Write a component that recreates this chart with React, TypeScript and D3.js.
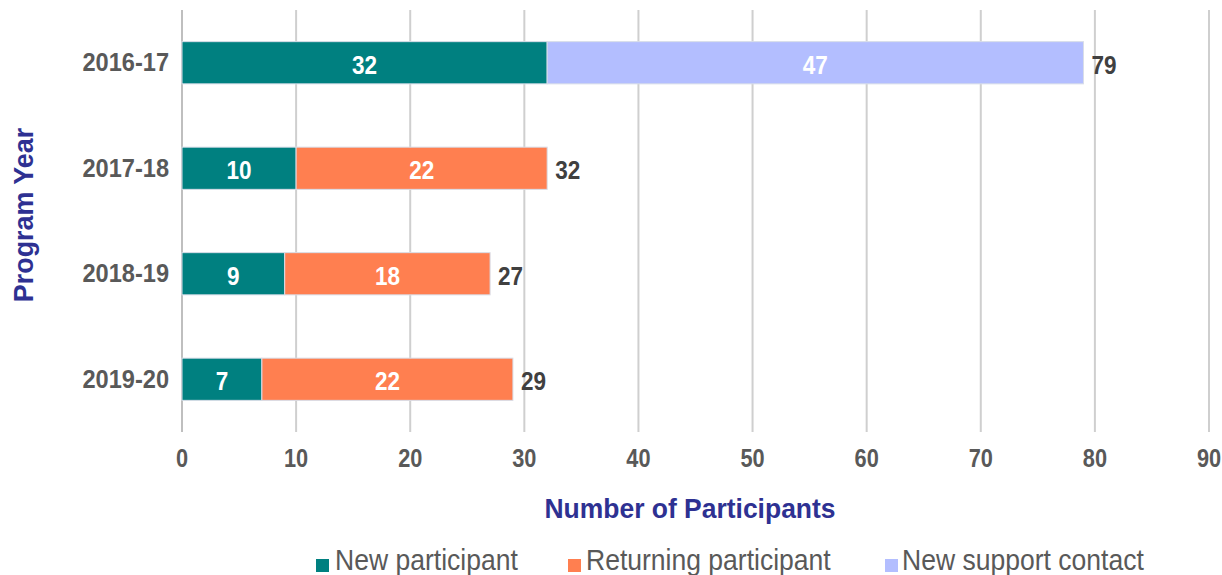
import * as d3 from "d3";
import React from "react";

const years = ["2016-17", "2017-18", "2018-19", "2019-20"];
const newParticipant = [32, 10, 9, 7];
const returningParticipant = [0, 22, 18, 22];
const newSupportContact = [47, 0, 0, 0];
const totals = [79, 32, 27, 29];
const xTicks = [0, 10, 20, 30, 40, 50, 60, 70, 80, 90];

const seriesNames = ["New participant", "Returning participant", "New support contact"];
const colors = ["#008080", "#FF7F50", "#B3BEFF"];

const W = 1222;
const H = 575;
const margin = { top: 10, right: 13, bottom: 143, left: 182 };

const font = "'Liberation Sans', Arial, sans-serif";

// text squeezed horizontally, like the narrow font in the original
const T = ({ x, y, sx = 0.9, size, anchor = "start", fill, bold = false, children }: any) => (
  <text
    transform={`translate(${x},${y}) scale(${sx},1)`}
    textAnchor={anchor}
    fill={fill}
    fontFamily={font}
    fontWeight={bold ? "bold" : "normal"}
    fontSize={size}
  >
    {children}
  </text>
);

export default function App() {
  const rows = years.map((y, i) => ({
    year: y,
    "New participant": newParticipant[i],
    "Returning participant": returningParticipant[i],
    "New support contact": newSupportContact[i],
  }));

  const stack = d3.stack<any>().keys(seriesNames)(rows);

  const x = d3.scaleLinear().domain([0, 90]).range([margin.left, W - margin.right]);
  const y = d3
    .scaleBand()
    .domain(years)
    .range([margin.top, H - margin.bottom])
    .paddingInner(0.6)
    .paddingOuter(0.3);

  const bh = y.bandwidth();
  const mid = (yr: string) => y(yr)! + bh / 2;

  const legend = [
    { x: 316, tx: 335 },
    { x: 568, tx: 586 },
    { x: 885, tx: 902 },
  ];

  return (
    <svg width={W} height={H} style={{ position: "absolute", left: 0, top: 0 }}>
      <rect width={W} height={H} fill="#fff" />
      {/* gridlines */}
      {xTicks.map((t) => (
        <line
          key={t}
          x1={x(t)}
          x2={x(t)}
          y1={margin.top}
          y2={H - margin.bottom}
          stroke={t === 0 ? "#bfbfbf" : "#cfcfcf"}
          strokeWidth={2}
        />
      ))}
      {/* bars */}
      {stack.map((s, si) => (
        <g key={s.key}>
          {s.map((d, i) =>
            d[1] - d[0] > 0 ? (
              <g key={i}>
                <rect
                  x={x(d[0])}
                  y={y(years[i])!}
                  width={x(d[1]) - x(d[0])}
                  height={bh}
                  fill={colors[si]}
                  stroke="#d8dde8"
                  strokeWidth={1}
                />
                <T x={(x(d[0]) + x(d[1])) / 2} y={mid(years[i]) + 11} size={25} anchor="middle" fill="#fff" bold>
                  {d[1] - d[0]}
                </T>
              </g>
            ) : null
          )}
        </g>
      ))}
      {/* totals */}
      {years.map((yr, i) => (
        <T key={yr} x={x(totals[i]) + 8} y={mid(yr) + 11} size={25} fill="#404040" bold>
          {totals[i]}
        </T>
      ))}
      {/* y labels */}
      {years.map((yr) => (
        <T key={yr} x={169} y={mid(yr) + 8.5} size={26.5} sx={0.89} anchor="end" fill="#595959" bold>
          {yr}
        </T>
      ))}
      {/* x tick labels */}
      {xTicks.map((t) => (
        <T key={t} x={x(t)} y={467} size={25} sx={0.87} anchor="middle" fill="#595959" bold>
          {t}
        </T>
      ))}
      {/* axis titles */}
      <T x={690} y={518} size={28} sx={0.945} anchor="middle" fill="#2E3192" bold>
        Number of Participants
      </T>
      <text
        transform={`translate(33,215) rotate(-90) scale(0.96,1)`}
        textAnchor="middle"
        fill="#2E3192"
        fontFamily={font}
        fontWeight="bold"
        fontSize={28}
      >
        Program Year
      </text>
      {/* legend */}
      {legend.map((p, i) => (
        <g key={i}>
          <rect x={p.x} y={559} width={13} height={13} fill={colors[i]} />
          <T x={p.tx} y={570} size={29} sx={0.915} fill="#595959">
            {seriesNames[i]}
          </T>
        </g>
      ))}
    </svg>
  );
}
